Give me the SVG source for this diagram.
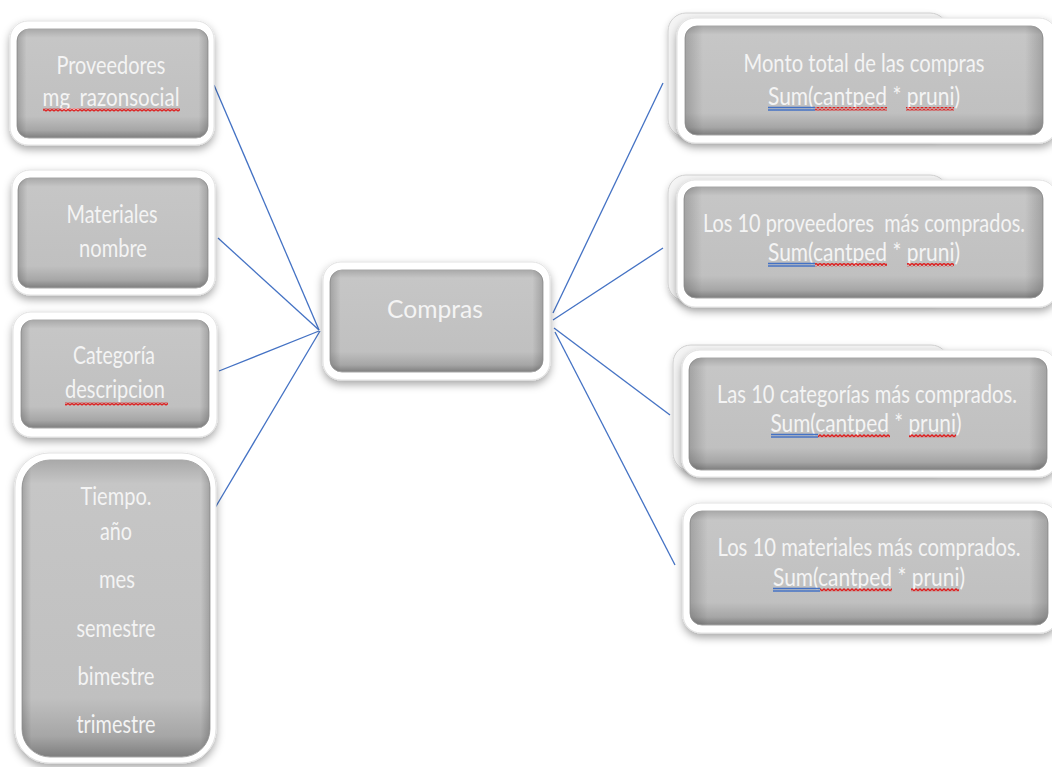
<svg xmlns="http://www.w3.org/2000/svg" width="1052" height="767" viewBox="0 0 1052 767">
<defs>
<style>
.frame{fill:#ffffff;stroke:#e2e2e2;stroke-width:1;filter:url(#sh)}
.ghost{fill:#f4f4f4;stroke:#d0d0d0;stroke-width:1;filter:url(#sh2)}
.fill{fill:url(#gv);stroke:#a8a8a8;stroke-width:1}
.side{fill:url(#gh)}
.t{font-family:Lato,"Open Sans","Liberation Sans",sans-serif;font-size:25px;fill:#f4f4f4;text-anchor:middle}
.c{stroke:#4472C4;stroke-width:1.3;fill:none}
.wavy{fill:url(#wv)}
.dbl{stroke:#4472C4;stroke-width:1.3}
</style>
<filter id="sh" x="-10%" y="-15%" width="120%" height="140%">
<feDropShadow dx="0" dy="4" stdDeviation="4" flood-color="#000" flood-opacity="0.35"/>
</filter>
<filter id="sh2" x="-10%" y="-15%" width="120%" height="140%">
<feDropShadow dx="0" dy="3" stdDeviation="3" flood-color="#000" flood-opacity="0.22"/>
</filter>
<linearGradient id="gv" x1="0" y1="0" x2="0" y2="1">
<stop offset="0" stop-color="#a9a9a9"/>
<stop offset="0.08" stop-color="#c6c6c6"/>
<stop offset="0.8" stop-color="#c0c0c0"/>
<stop offset="0.93" stop-color="#a6a6a6"/>
<stop offset="1" stop-color="#7e7e7e"/>
</linearGradient>
<linearGradient id="gh" x1="0" y1="0" x2="1" y2="0">
<stop offset="0" stop-color="#000" stop-opacity="0.18"/>
<stop offset="0.05" stop-color="#000" stop-opacity="0"/>
<stop offset="0.95" stop-color="#000" stop-opacity="0"/>
<stop offset="1" stop-color="#000" stop-opacity="0.18"/>
</linearGradient>
<pattern id="wv" x="0" y="0" width="4" height="3.5" patternUnits="userSpaceOnUse">
<polyline points="0,0.7 2,2.8 4,0.7" fill="none" stroke="#e01010" stroke-width="1.4"/>
</pattern>
</defs>
<rect width="1052" height="767" fill="#ffffff"/>

<g id="connectors">
<line class="c" x1="214" y1="85" x2="319" y2="330"/>
<line class="c" x1="218" y1="238" x2="319" y2="330"/>
<line class="c" x1="219" y1="371" x2="319" y2="331"/>
<line class="c" x1="215" y1="508" x2="320" y2="331"/>
<line class="c" x1="553" y1="313" x2="663" y2="83"/>
<line class="c" x1="553" y1="320" x2="663" y2="248"/>
<line class="c" x1="554" y1="328" x2="670" y2="415"/>
<line class="c" x1="555" y1="332" x2="675" y2="565"/>
</g>

<g id="proveedores">
<rect class="frame" x="10" y="21" width="204" height="124" rx="18"/>
<rect class="fill" x="17" y="29" width="191" height="109" rx="12"/>
<rect class="side" x="17" y="29" width="191" height="109" rx="12"/>
<text class="t" x="111" y="74" textLength="109" lengthAdjust="spacingAndGlyphs">Proveedores</text>
<text class="t" x="111" y="106" textLength="137" lengthAdjust="spacingAndGlyphs">mg_razonsocial</text>
<rect class="wavy" x="43" y="108" width="137" height="3.5"/>
</g>

<g id="materiales">
<rect class="frame" x="12" y="170" width="203" height="125" rx="18"/>
<rect class="fill" x="18" y="178" width="190" height="110" rx="12"/>
<rect class="side" x="18" y="178" width="190" height="110" rx="12"/>
<text class="t" x="112" y="223" textLength="91" lengthAdjust="spacingAndGlyphs">Materiales</text>
<text class="t" x="113" y="257" textLength="68" lengthAdjust="spacingAndGlyphs">nombre</text>
</g>

<g id="categoria">
<rect class="frame" x="13" y="312" width="204" height="125" rx="18"/>
<rect class="fill" x="21" y="320" width="188" height="108" rx="12"/>
<rect class="side" x="21" y="320" width="188" height="108" rx="12"/>
<text class="t" x="114" y="364" textLength="82" lengthAdjust="spacingAndGlyphs">Categoría</text>
<text class="t" x="115" y="398" textLength="100" lengthAdjust="spacingAndGlyphs">descripcion</text>
<rect class="wavy" x="65" y="402" width="103" height="3.5"/>
</g>

<g id="tiempo">
<rect class="frame" x="15" y="453" width="201" height="310" rx="34"/>
<rect class="fill" x="22" y="460" width="188" height="297" rx="28"/>
<rect class="side" x="22" y="460" width="188" height="297" rx="28"/>
<text class="t" x="116" y="505" textLength="71" lengthAdjust="spacingAndGlyphs">Tiempo.</text>
<text class="t" x="116" y="540" textLength="32" lengthAdjust="spacingAndGlyphs">año</text>
<text class="t" x="117" y="588" textLength="36" lengthAdjust="spacingAndGlyphs">mes</text>
<text class="t" x="116" y="637" textLength="79" lengthAdjust="spacingAndGlyphs">semestre</text>
<text class="t" x="116" y="685" textLength="77" lengthAdjust="spacingAndGlyphs">bimestre</text>
<text class="t" x="116" y="733" textLength="79" lengthAdjust="spacingAndGlyphs">trimestre</text>
</g>

<g id="compras">
<rect class="frame" x="323" y="262" width="227" height="118" rx="18"/>
<rect class="fill" x="330" y="270" width="213" height="102" rx="12"/>
<rect class="side" x="330" y="270" width="213" height="102" rx="12"/>
<text class="t" x="435" y="318" textLength="96" lengthAdjust="spacingAndGlyphs">Compras</text>
</g>

<g id="monto">
<rect class="ghost" x="668" y="13" width="280" height="124" rx="18"/>
<rect class="frame" x="677" y="18" width="380" height="125" rx="18"/>
<rect class="fill" x="685" y="26" width="358" height="109" rx="12"/>
<rect class="side" x="685" y="26" width="358" height="109" rx="12"/>
<text class="t" x="864" y="72" textLength="241" lengthAdjust="spacingAndGlyphs">Monto total de las compras</text>
<text class="t" x="864" y="105" textLength="192" lengthAdjust="spacingAndGlyphs">Sum(cantped * pruni)</text>
<line class="dbl" x1="768" y1="107.5" x2="815" y2="107.5"/>
<line class="dbl" x1="768" y1="110" x2="815" y2="110"/>
<rect class="wavy" x="815" y="107" width="72" height="3.5"/>
<rect class="wavy" x="906" y="107" width="48" height="3.5"/>
</g>

<g id="top-proveedores">
<rect class="ghost" x="668" y="175" width="280" height="126" rx="18"/>
<rect class="frame" x="677" y="180" width="380" height="127" rx="18"/>
<rect class="fill" x="684" y="187" width="359" height="111" rx="12"/>
<rect class="side" x="684" y="187" width="359" height="111" rx="12"/>
<text class="t" x="864" y="232" textLength="322" lengthAdjust="spacingAndGlyphs" xml:space="preserve" style="white-space:pre">Los 10 proveedores  más comprados.</text>
<text class="t" x="864" y="261" textLength="192" lengthAdjust="spacingAndGlyphs">Sum(cantped * pruni)</text>
<line class="dbl" x1="768" y1="263.5" x2="815" y2="263.5"/>
<line class="dbl" x1="768" y1="266" x2="815" y2="266"/>
<rect class="wavy" x="815" y="263" width="72" height="3.5"/>
<rect class="wavy" x="907" y="263" width="47" height="3.5"/>
</g>

<g id="top-categorias">
<rect class="ghost" x="673" y="345" width="276" height="126" rx="18"/>
<rect class="frame" x="682" y="350" width="375" height="127" rx="18"/>
<rect class="fill" x="689" y="358" width="358" height="112" rx="12"/>
<rect class="side" x="689" y="358" width="358" height="112" rx="12"/>
<text class="t" x="867" y="403" textLength="300" lengthAdjust="spacingAndGlyphs">Las 10 categorías más comprados.</text>
<text class="t" x="866" y="432" textLength="191" lengthAdjust="spacingAndGlyphs">Sum(cantped * pruni)</text>
<line class="dbl" x1="771" y1="434.5" x2="818" y2="434.5"/>
<line class="dbl" x1="771" y1="437" x2="818" y2="437"/>
<rect class="wavy" x="818" y="434" width="72" height="3.5"/>
<rect class="wavy" x="909" y="434" width="47" height="3.5"/>
</g>

<g id="top-materiales">
<rect class="frame" x="683" y="503" width="375" height="130" rx="18"/>
<rect class="fill" x="690" y="511" width="358" height="114" rx="12"/>
<rect class="side" x="690" y="511" width="358" height="114" rx="12"/>
<text class="t" x="869" y="556" textLength="303" lengthAdjust="spacingAndGlyphs">Los 10 materiales más comprados.</text>
<text class="t" x="869" y="586" textLength="192" lengthAdjust="spacingAndGlyphs">Sum(cantped * pruni)</text>
<line class="dbl" x1="773" y1="588.5" x2="820" y2="588.5"/>
<line class="dbl" x1="773" y1="591" x2="820" y2="591"/>
<rect class="wavy" x="820" y="588" width="72" height="3.5"/>
<rect class="wavy" x="911" y="588" width="48" height="3.5"/>
</g>
</svg>
